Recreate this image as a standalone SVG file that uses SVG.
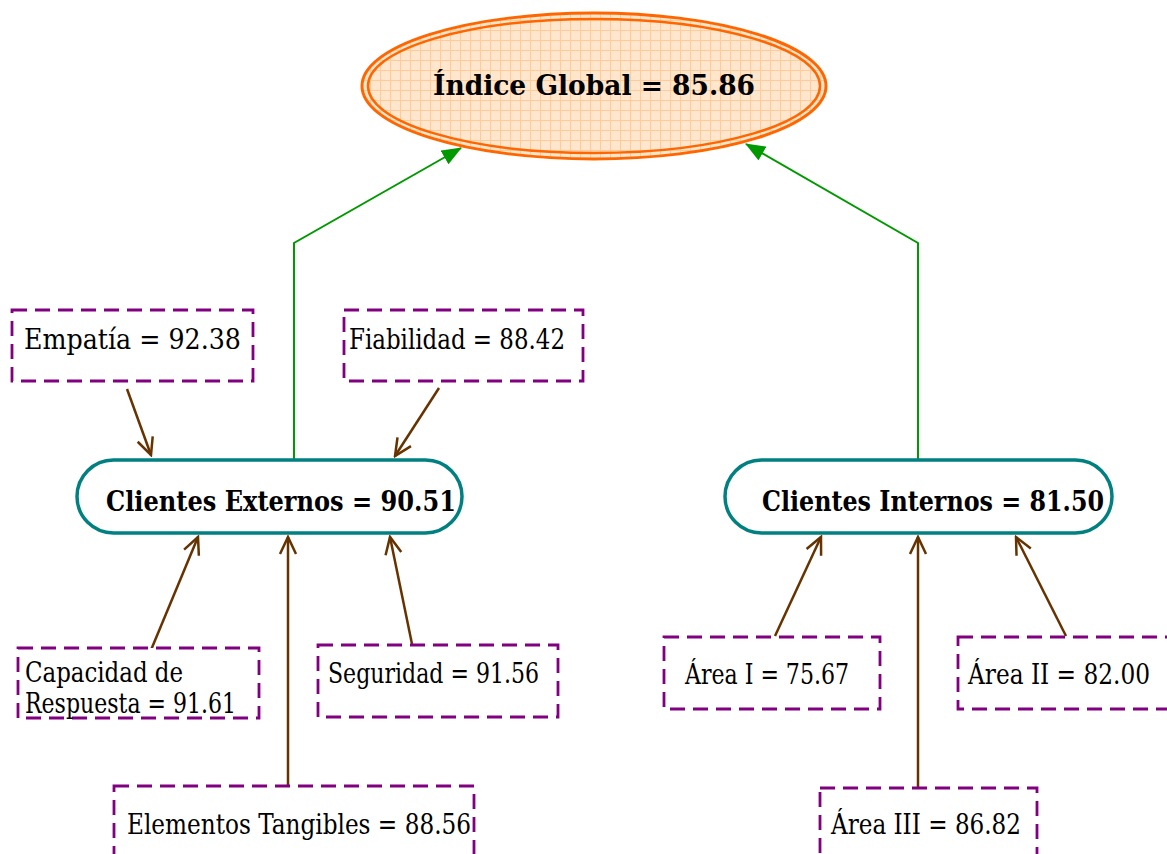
<svg xmlns="http://www.w3.org/2000/svg" width="1167" height="854" viewBox="0 0 1167 854">
<style>
.box{fill:#fff;stroke:#800080;stroke-width:2.8;stroke-dasharray:15 8}
.pill{fill:#fff;stroke:#008080;stroke-width:3.5}
.t{font-family:"DejaVu Serif Condensed","DejaVu Serif",serif;font-size:28px;fill:#000}
.b{font-family:"DejaVu Serif Condensed","DejaVu Serif",serif;font-size:27px;font-weight:bold;fill:#000}
.br{stroke:#663300;stroke-width:2.5;fill:none;marker-end:url(#open)}
.gr{stroke:#009900;stroke-width:2;fill:none;marker-end:url(#tri)}
</style>
<defs>
<pattern id="grid" width="10" height="10" patternUnits="userSpaceOnUse">
<rect width="10" height="10" fill="#FFE6CC"/>
<path d="M0 0.5H10M0.5 0V10" stroke="#FFCC99" stroke-width="1"/>
</pattern>
<marker id="open" viewBox="0 0 22 22" refX="20" refY="11" markerWidth="22" markerHeight="22" markerUnits="userSpaceOnUse" orient="auto">
<path d="M3 3L20 11L3 19" fill="none" stroke="#663300" stroke-width="2.5"/>
</marker>
<marker id="tri" viewBox="0 0 20 16" refX="19" refY="8" markerWidth="20" markerHeight="16" markerUnits="userSpaceOnUse" orient="auto">
<path d="M0 0L20 8L0 16Z" fill="#009900"/>
</marker>
</defs>
<rect width="1167" height="854" fill="#fff"/>
<g id="connectors">
<polyline class="gr" points="294,459 294,243 461,148"/>
<polyline class="gr" points="918,459 918,243 746,144"/>
<line class="br" x1="127" y1="389" x2="151" y2="455"/>
<line class="br" x1="439" y1="388" x2="395" y2="456"/>
<line class="br" x1="151" y1="650" x2="198" y2="537"/>
<line class="br" x1="288" y1="785" x2="288" y2="537"/>
<line class="br" x1="412" y1="644" x2="390" y2="537"/>
<line class="br" x1="775" y1="636" x2="821" y2="537"/>
<line class="br" x1="918" y1="788" x2="918" y2="537"/>
<line class="br" x1="1066" y1="636" x2="1016" y2="537"/>
</g>
<g id="global">
<ellipse cx="594" cy="86" rx="232" ry="73" fill="url(#grid)" stroke="#FF6600" stroke-width="3"/>
<ellipse cx="594" cy="86" rx="226" ry="67" fill="none" stroke="#FF6600" stroke-width="2.5"/>
<text class="b" x="433" y="95" font-size="28" textLength="322" lengthAdjust="spacingAndGlyphs">Índice Global = 85.86</text>
</g>
<g id="externos">
<rect class="pill" x="77" y="460" width="385" height="73" rx="36.5"/>
<text class="b" x="106" y="511" textLength="350" lengthAdjust="spacingAndGlyphs">Clientes Externos = 90.51</text>
</g>
<g id="internos">
<rect class="pill" x="725" y="460" width="387" height="73" rx="36.5"/>
<text class="b" x="762" y="511" textLength="342" lengthAdjust="spacingAndGlyphs">Clientes Internos = 81.50</text>
</g>
<g id="empatia">
<rect class="box" x="12" y="310" width="241" height="71"/>
<text class="t" x="24" y="349" textLength="217" lengthAdjust="spacingAndGlyphs">Empatía = 92.38</text>
</g>
<g id="fiabilidad">
<rect class="box" x="344" y="310" width="239" height="71"/>
<text class="t" x="349" y="349" textLength="216" lengthAdjust="spacingAndGlyphs">Fiabilidad = 88.42</text>
</g>
<g id="capacidad">
<rect class="box" x="18" y="648" width="241" height="70"/>
<text class="t" x="25" y="682" font-size="25" textLength="158" lengthAdjust="spacingAndGlyphs">Capacidad de</text>
<text class="t" x="25" y="713" font-size="25" textLength="211" lengthAdjust="spacingAndGlyphs">Respuesta = 91.61</text>
</g>
<g id="seguridad">
<rect class="box" x="318" y="645" width="240" height="72"/>
<text class="t" x="328" y="683" textLength="211" lengthAdjust="spacingAndGlyphs">Seguridad = 91.56</text>
</g>
<g id="tangibles">
<rect class="box" x="114" y="786" width="360" height="80"/>
<text class="t" x="127" y="834" textLength="344" lengthAdjust="spacingAndGlyphs">Elementos Tangibles = 88.56</text>
</g>
<g id="area1">
<rect class="box" x="664" y="637" width="216" height="72"/>
<text class="t" x="685" y="684" textLength="164" lengthAdjust="spacingAndGlyphs">Área I = 75.67</text>
</g>
<g id="area2">
<rect class="box" x="958" y="637" width="220" height="72"/>
<text class="t" x="968" y="684" textLength="182" lengthAdjust="spacingAndGlyphs">Área II = 82.00</text>
</g>
<g id="area3">
<rect class="box" x="820" y="788" width="217" height="80"/>
<text class="t" x="831" y="834" textLength="190" lengthAdjust="spacingAndGlyphs">Área III = 86.82</text>
</g>
</svg>
